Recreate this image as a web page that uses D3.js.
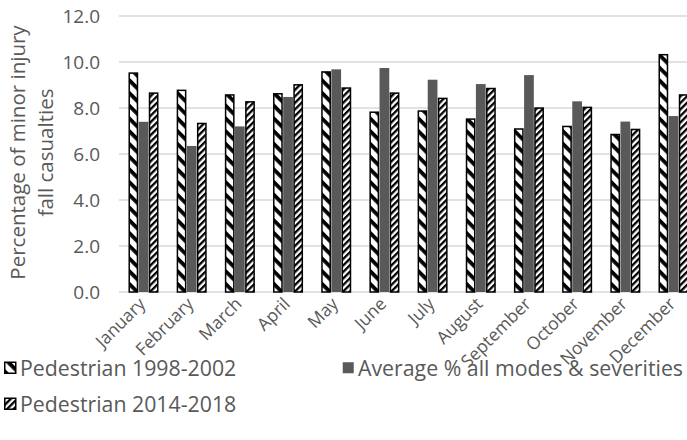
<!DOCTYPE html>
<html>
<head>
<meta charset="utf-8">
<script src="https://cdn.jsdelivr.net/npm/d3@7"></script>
<style>
  html, body { margin: 0; padding: 0; background: #fff; }
  svg { display: block; font-family: "Open Sans", sans-serif; }
</style>
</head>
<body>
<svg id="chart" width="687" height="440"></svg>
<script>
// Monthly share of minor-injury fall casualties (%)
const months = ["January", "February", "March", "April", "May", "June",
                "July", "August", "September", "October", "November", "December"];
const pedestrian9802 = [9.55, 8.8, 8.6, 8.65, 9.6, 7.85, 7.9, 7.55, 7.12, 7.23, 6.88, 10.35];
const averageAll     = [7.4, 6.35, 7.2, 8.48, 9.68, 9.74, 9.23, 9.04, 9.43, 8.29, 7.41, 7.65];
const pedestrian1418 = [8.68, 7.36, 8.3, 9.04, 8.9, 8.68, 8.45, 8.88, 8.03, 8.06, 7.1, 8.6];
const yTicks = [0, 2, 4, 6, 8, 10, 12];
const seriesNames = ["Pedestrian 1998-2002", "Average % all modes & severities", "Pedestrian 2014-2018"];

const svg = d3.select("#chart");
const defs = svg.append("defs");

// Wide downward diagonal stripes
const p1 = defs.append("pattern").attr("id", "hatchWide")
  .attr("patternUnits", "userSpaceOnUse").attr("width", 9).attr("height", 9)
  .attr("patternTransform", "rotate(45)");
p1.append("rect").attr("width", 9).attr("height", 9).attr("fill", "#fff");
p1.append("rect").attr("width", 9).attr("height", 3.8).attr("fill", "#000");

// Narrow upward diagonal stripes
const p2 = defs.append("pattern").attr("id", "hatchNarrow")
  .attr("patternUnits", "userSpaceOnUse").attr("width", 4.6).attr("height", 4.6)
  .attr("patternTransform", "rotate(-45)");
p2.append("rect").attr("width", 4.6).attr("height", 4.6).attr("fill", "#fff");
p2.append("rect").attr("width", 4.6).attr("height", 2.3).attr("fill", "#000");

const fills = ["url(#hatchWide)", "#595959", "url(#hatchNarrow)"];
const strokes = ["#000", "none", "#000"];

const y = d3.scaleLinear().domain([0, 12]).range([292, 16]);
const x0 = d3.scaleBand().domain(months).range([119.4, 697.6])
  .paddingInner(0.36).paddingOuter(0.18);
const x1 = d3.scaleBand().domain([0, 1, 2]).range([0, x0.bandwidth()]).padding(0.04);

// Gridlines
svg.append("g").selectAll("line").data(yTicks).join("line")
  .attr("x1", 119).attr("x2", 687)
  .attr("y1", d => y(d)).attr("y2", d => y(d))
  .attr("stroke", "#d9d9d9").attr("stroke-width", 1.3);

// Y axis labels
const yAxis = svg.append("g").attr("transform", "translate(100,0)")
  .call(d3.axisLeft(y).tickValues(yTicks).tickFormat(d3.format(".1f")).tickSize(0).tickPadding(0));
yAxis.select(".domain").remove();
yAxis.selectAll("text").attr("font-size", 19).attr("fill", "#595959")
  .attr("font-family", "'Open Sans', sans-serif");

// Y axis title
const yt = svg.append("text").attr("transform", "translate(25,152.5) rotate(-90)")
  .attr("text-anchor", "middle").attr("fill", "#595959").attr("font-size", 20.5);
yt.append("tspan").attr("x", 0).attr("dy", 0).text("Percentage of minor injury");
yt.append("tspan").attr("x", 0).attr("dy", 28).text("fall casualties");

// Bars
const data = months.map((m, i) => ({ m, vals: [pedestrian9802[i], averageAll[i], pedestrian1418[i]] }));
const groups = svg.append("g").selectAll("g").data(data).join("g")
  .attr("transform", d => `translate(${x0(d.m)},0)`);
groups.selectAll("rect").data(d => d.vals.map((v, k) => ({ v, k }))).join("rect")
  .attr("x", d => x1(d.k) + (d.k === 1 ? 0 : 0.75))
  .attr("width", d => x1.bandwidth() - (d.k === 1 ? 0 : 1.5))
  .attr("y", d => y(d.v) + (d.k === 1 ? 0 : 0.75))
  .attr("height", d => y(0) - y(d.v) - (d.k === 1 ? 0 : 0.75))
  .attr("fill", d => fills[d.k])
  .attr("stroke", d => strokes[d.k]).attr("stroke-width", 1.5);

// X axis labels, rotated
svg.append("g").selectAll("text").data(months).join("text")
  .attr("transform", d => `translate(${x0(d) + x0.bandwidth() / 2 + 3},${305}) rotate(-45)`)
  .attr("text-anchor", "end").attr("fill", "#595959").attr("font-size", 17.5)
  .text(d => d);

// Legend
const legendItems = [
  { k: 0, x: 4, y: 368 },
  { k: 1, x: 342, y: 368 },
  { k: 2, x: 4, y: 404 }
];
const lg = svg.append("g").selectAll("g").data(legendItems).join("g")
  .attr("transform", d => `translate(${d.x},${d.y})`);
lg.append("rect").attr("x", 0.75).attr("y", -5.75).attr("width", 11).attr("height", 11)
  .attr("fill", d => fills[d.k]).attr("stroke", d => strokes[d.k]).attr("stroke-width", 1.5);
lg.append("text").attr("x", 16).attr("y", 7.5).attr("font-size", 21.3).attr("fill", "#595959")
  .text(d => seriesNames[d.k]);
</script>
</body>
</html>
